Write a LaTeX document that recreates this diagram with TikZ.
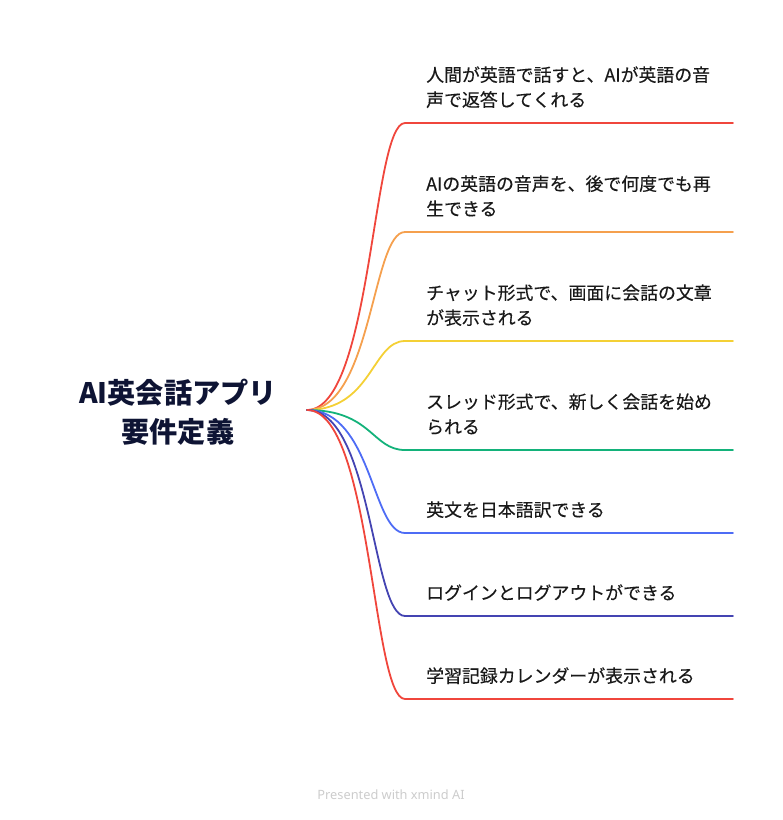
\documentclass[tikz,border=0pt]{standalone}
\usepackage{fontspec}
\setmainfont{Noto Sans CJK JP}
\newfontfamily\topicfont[FakeBold=0.3]{Noto Sans CJK JP}
\newfontfamily\footfont{Noto Sans}
\definecolor{titleblue}{HTML}{0E1434}
\definecolor{bred}{HTML}{F0463C}
\definecolor{borange}{HTML}{F5A04E}
\definecolor{byellow}{HTML}{F4D035}
\definecolor{bgreen}{HTML}{13B27A}
\definecolor{bblue}{HTML}{4E6CF5}
\definecolor{bindigo}{HTML}{4444B2}
\begin{document}
\begin{tikzpicture}[x=1pt, y=-1pt]
        \tikzstyle{topic} = [anchor=base west, inner sep=0pt, align=left, text=black!90, font=\topicfont\fontsize{17.9}{25}\selectfont]
        \tikzstyle{branch} = [line width=1.8pt, line cap=round]
        \useasboundingbox (0,0) rectangle (783,820);

        \node (root) [align=center, text=titleblue, font=\fontsize{28.2}{39}\selectfont\bfseries] at (178,412.5) {AI英会話アプリ\\要件定義};
        \coordinate (hub) at (307,410);

        \coordinate (k1) at (405,123); \coordinate (e1) at (733,123);
        \coordinate (k2) at (405,232); \coordinate (e2) at (733,232);
        \coordinate (k3) at (405,341); \coordinate (e3) at (733,341);
        \coordinate (k4) at (405,450); \coordinate (e4) at (733,450);
        \coordinate (k5) at (405,533); \coordinate (e5) at (733,533);
        \coordinate (k6) at (405,616); \coordinate (e6) at (733,616);
        \coordinate (k7) at (405,699); \coordinate (e7) at (733,699);

        \node (speak) [topic] at (426,106.5) {人間が英語で話すと、AIが英語の音\\声で返答してくれる};
        \node (replay) [topic] at (426,215.5) {AIの英語の音声を、後で何度でも再\\生できる};
        \node (chat) [topic] at (426,324.5) {チャット形式で、画面に会話の文章\\が表示される};
        \node (thread) [topic] at (426,433.5) {スレッド形式で、新しく会話を始め\\られる};
        \node (translate) [topic] at (426,516.5) {英文を日本語訳できる};
        \node (login) [topic] at (426,599.5) {ログインとログアウトができる};
        \node (calendar) [topic] at (426,682.5) {学習記録カレンダーが表示される};

        \node (footer) [text=black!20, font=\footfont\fontsize{12.8}{14}\selectfont] at (391,795) {Presented with \textbf{xmind AI}};

        \draw[branch, bred] (hub) .. controls +(65,0) and +(-33,0) .. (k1) -- (e1);
        \draw[branch, borange] (hub) .. controls +(65,0) and +(-33,0) .. (k2) -- (e2);
        \draw[branch, byellow] (hub) .. controls +(65,0) and +(-33,0) .. (k3) -- (e3);
        \draw[branch, bgreen] (hub) .. controls +(65,0) and +(-33,0) .. (k4) -- (e4);
        \draw[branch, bblue] (hub) .. controls +(65,0) and +(-33,0) .. (k5) -- (e5);
        \draw[branch, bindigo] (hub) .. controls +(65,0) and +(-33,0) .. (k6) -- (e6);
        \draw[branch, bred] (hub) .. controls +(65,0) and +(-33,0) .. (k7) -- (e7);
\end{tikzpicture}
\end{document}
